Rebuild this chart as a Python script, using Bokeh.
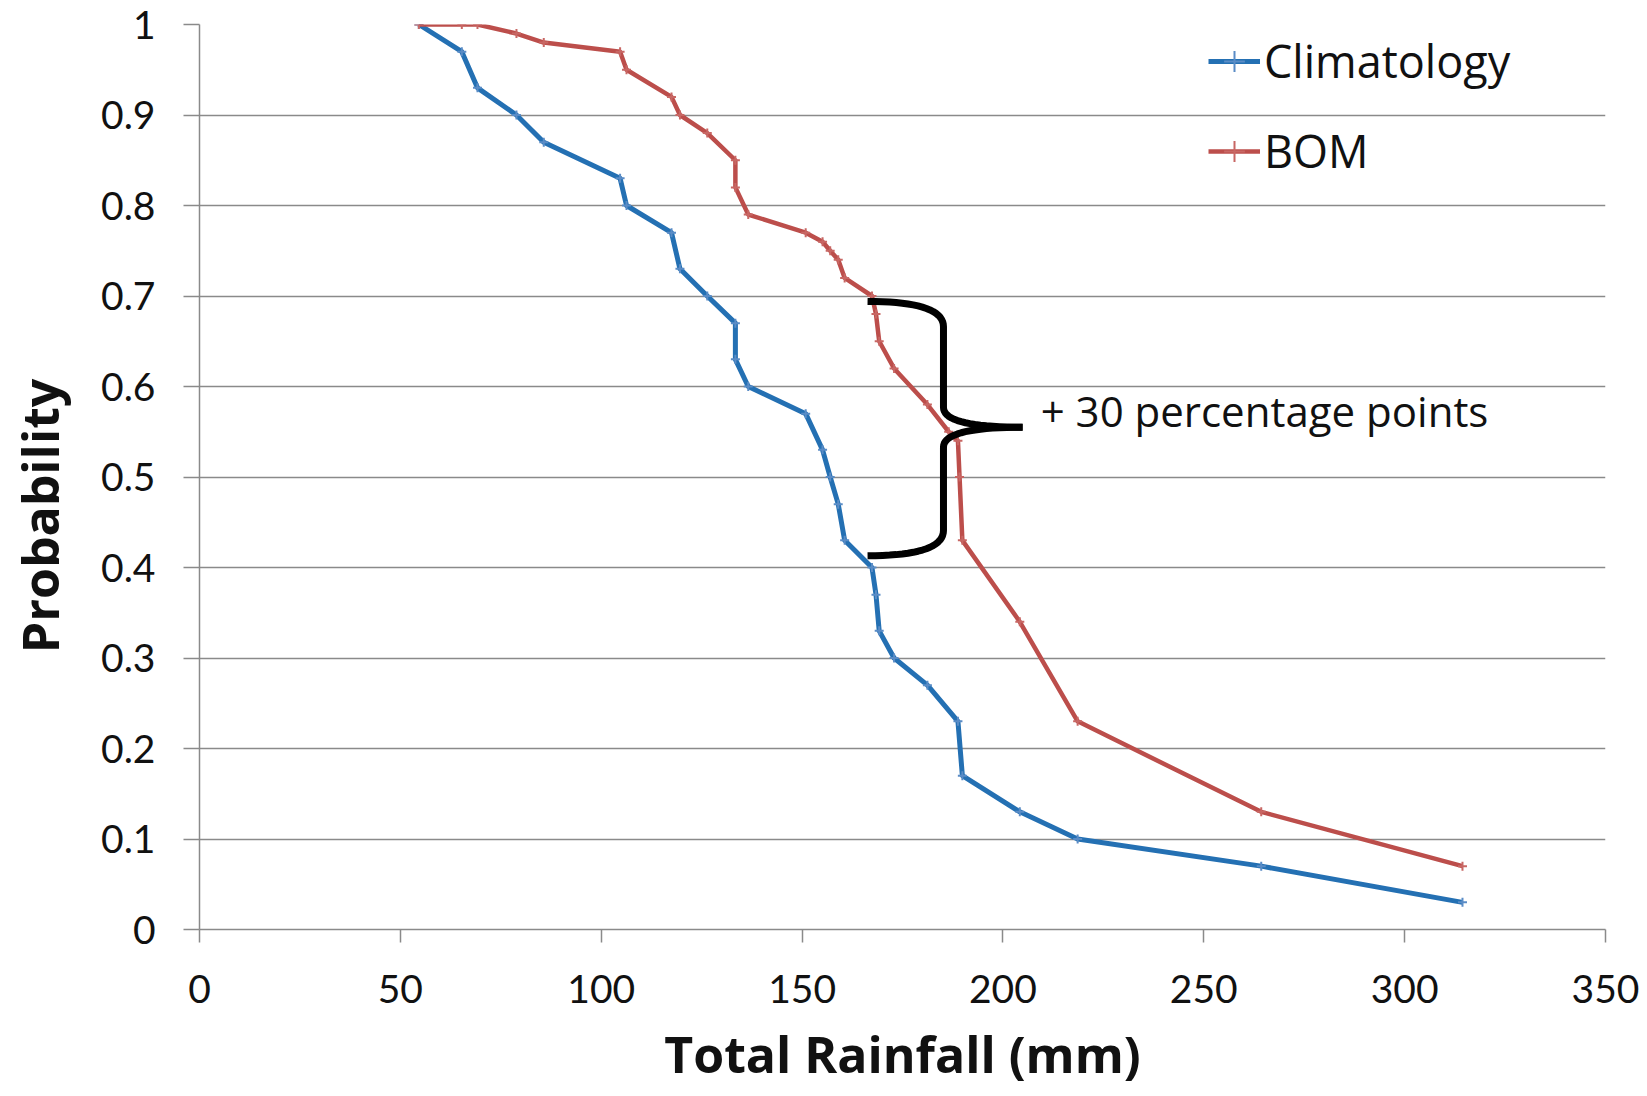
import numpy as np
from bokeh.plotting import figure
from bokeh.models import Legend, LegendItem, Range1d, FixedTicker, ColumnDataSource, Label
from bokeh.embed import file_html
from bokeh.resources import INLINE

# ---- data ----
clim_rain = [54.6, 65.3, 69.2, 78.9, 85.7, 104.7, 106.3, 117.5, 119.6, 126.4, 133.4, 133.4,
             136.6, 150.9, 155.1, 157.0, 159.0, 160.6, 167.4, 168.4, 169.2, 172.9, 181.2,
             188.8, 189.9, 204.2, 218.6, 264.3, 314.4]
clim_prob = [1.00, 0.97, 0.93, 0.90, 0.87, 0.83, 0.80, 0.77, 0.73, 0.70, 0.67, 0.63,
             0.60, 0.57, 0.53, 0.50, 0.47, 0.43, 0.40, 0.37, 0.33, 0.30, 0.27,
             0.23, 0.17, 0.13, 0.10, 0.07, 0.03]

bom_rain = [54.6, 65.3, 69.2, 78.9, 85.7, 104.7, 106.3, 117.5, 119.6, 126.4, 133.4, 133.4,
            136.6, 150.9, 155.1, 157.0, 159.0, 160.6, 167.4, 168.4, 169.2, 172.9, 181.2,
            186.5, 188.8, 189.2, 189.9, 204.2, 218.6, 264.3, 314.4]
bom_prob = [1.00, 1.00, 1.00, 0.99, 0.98, 0.97, 0.95, 0.92, 0.90, 0.88, 0.85, 0.82,
            0.79, 0.77, 0.76, 0.75, 0.74, 0.72, 0.70, 0.68, 0.65, 0.62, 0.58,
            0.55, 0.54, 0.50, 0.43, 0.34, 0.23, 0.13, 0.07]

x_ticks = [0, 50, 100, 150, 200, 250, 300, 350]
y_ticks = [0, 0.1, 0.2, 0.3, 0.4, 0.5, 0.6, 0.7, 0.8, 0.9, 1.0]
y_tick_labels = {0: "0", 0.1: "0.1", 0.2: "0.2", 0.3: "0.3", 0.4: "0.4", 0.5: "0.5",
                 0.6: "0.6", 0.7: "0.7", 0.8: "0.8", 0.9: "0.9", 1.0: "1"}

annotation_text = "+ 30 percentage points"

BLUE = "#2470B3"
BLUE_M = "#5A8CC6"
RED = "#BC4E4B"
RED_M = "#C86764"
GRID = "#8A8A8A"
FONT = "Open Sans"
TICK_FONT = "Lato"

W, H = 1640, 1090
p = figure(width=W, height=H, output_backend="svg", toolbar_location=None,
           x_range=Range1d(0, 350), y_range=Range1d(0, 1),
           min_border_left=199, min_border_right=35, min_border_top=24, min_border_bottom=157)
p.outline_line_color = None
p.background_fill_color = "white"

# axes
p.xaxis.ticker = FixedTicker(ticks=x_ticks)
p.yaxis.ticker = FixedTicker(ticks=y_ticks)
p.yaxis.major_label_overrides = y_tick_labels
for ax in (p.xaxis[0], p.yaxis[0]):
    ax.axis_line_color = GRID
    ax.axis_line_width = 1.5
    ax.major_tick_line_color = GRID
    ax.major_tick_line_width = 1.5
    ax.major_tick_in = 0
    ax.minor_tick_line_color = None
    ax.major_label_text_font = TICK_FONT
    ax.major_label_text_font_size = "39px"
    ax.major_label_text_color = "#111111"
    ax.axis_label_text_font = FONT
    ax.axis_label_text_font_style = "bold"
    ax.axis_label_text_font_size = "50px"
    ax.axis_label_text_color = "#111111"
p.xaxis.major_tick_out = 13
p.yaxis.major_tick_out = 16
p.xaxis.major_label_standoff = 32
p.yaxis.major_label_standoff = 28
p.xaxis.axis_label = "Total Rainfall (mm)"
p.xaxis.axis_label_standoff = 14
# trailing no-break spaces push the centred title below the frame centre, as in the reference
p.yaxis.axis_label = "Probability" + "\u00a0" * 6
p.yaxis.axis_label_standoff = 24

p.xgrid.grid_line_color = None
p.ygrid.grid_line_color = GRID
p.ygrid.grid_line_width = 1.5

# series
cs = ColumnDataSource(dict(x=clim_rain, y=clim_prob))
bs = ColumnDataSource(dict(x=bom_rain, y=bom_prob))
cl = p.line("x", "y", source=cs, line_color=BLUE, line_width=5, line_join="round")
cm = p.scatter("x", "y", source=cs, marker="cross", size=9, line_width=2, line_color=BLUE_M)
bl = p.line("x", "y", source=bs, line_color=RED, line_width=4.5, line_join="round")
bm = p.scatter("x", "y", source=bs, marker="cross", size=9, line_width=2, line_color=RED_M)

# brace annotation between the two curves
def quad(p0, c, p1, n=20):
    t = np.linspace(0, 1, n)[:, None]
    P0, C, P1 = np.array(p0), np.array(c), np.array(p1)
    return (1 - t) ** 2 * P0 + 2 * (1 - t) * t * C + t ** 2 * P1

bx0 = 166.3
bx1 = 185.2
bx2 = 204.9
yt, yb, ym = 0.694, 0.413, 0.555
pts = np.vstack([
    quad((bx0, yt), (bx1, yt), (bx1, yt - 0.028)),
    quad((bx1, ym + 0.022), (bx1, ym), (bx2, ym)),
])
pts2 = np.vstack([
    quad((bx2, ym), (bx1, ym), (bx1, ym - 0.022)),
    quad((bx1, yb + 0.028), (bx1, yb), (bx0, yb)),
])
p.line(pts[:, 0], pts[:, 1], line_color="black", line_width=7, line_join="round", line_cap="butt")
p.line(pts2[:, 0], pts2[:, 1], line_color="black", line_width=7, line_join="round", line_cap="butt")

p.add_layout(Label(x=209.4, y=0.574, text=annotation_text, text_font=FONT,
                   text_font_size="42px", text_baseline="middle", text_color="#111111"))

legend = Legend(items=[LegendItem(label="Climatology", renderers=[cl, cm]),
                       LegendItem(label="BOM", renderers=[bl, bm])],
                location=(1009, 748))
legend.background_fill_alpha = 0
legend.border_line_alpha = 0
legend.label_text_font = FONT
legend.label_text_font_size = "45px"
legend.label_text_color = "#111111"
legend.glyph_width = 52
legend.glyph_height = 56
legend.label_height = 56
legend.label_standoff = 4
legend.spacing = 29
legend.padding = 0
legend.margin = 0
p.add_layout(legend, "center")

open("out.html", "w").write(file_html(p, INLINE))
